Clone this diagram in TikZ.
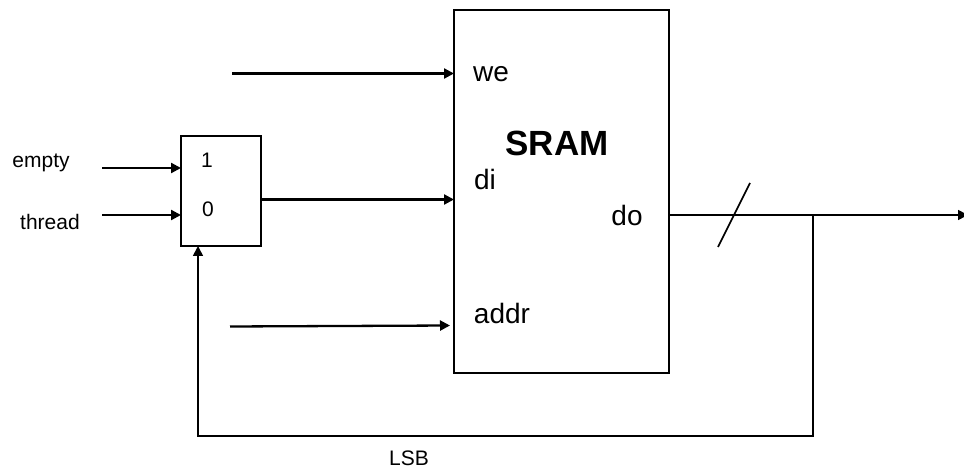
\documentclass[tikz,border=0pt]{standalone}
\usepackage{fontspec}
\setmainfont{Liberation Sans}
\usetikzlibrary{positioning, calc, arrows.meta}
\tikzset{
    wire/.style={line width=2.3pt, -{Triangle[length=10pt,width=10pt]}},
    thinwire/.style={line width=1.7pt, -{Triangle[length=10pt,width=10pt]}},
    plainwire/.style={line width=1.7pt},
    block/.style={draw, line width=2pt, outer sep=0pt, inner sep=0pt, anchor=north west},
    smalllabel/.style={font=\fontsize{21}{24}\selectfont, inner sep=0pt},
    biglabel/.style={font=\fontsize{28}{32}\selectfont, inner sep=0pt}
}
\begin{document}
\begin{tikzpicture}[x=1pt, y=-1pt]
        \useasboundingbox (0, 0) rectangle (964, 470);

        % Mux and memory blocks
        \node[block, minimum width=80pt, minimum height=110pt] (mux) at (181, 136) {};
        \node[block, minimum width=215pt, minimum height=363pt] (sram) at (454, 10) {};

        % Labels
        \node[smalllabel] (empty) at (41, 162.5) {empty};
        \node[smalllabel] (thread) at (50, 222) {thread};
        \node[smalllabel] (one) at (207, 160) {1};
        \node[smalllabel] (zero) at (208, 209) {0};
        \node[smalllabel] (lsb) at (409, 458) {LSB};
        \node[biglabel] (we) at (491, 74) {we};
        \node[biglabel] (di) at (485, 179) {di};
        \node[biglabel] (do) at (627, 215) {do};
        \node[biglabel] (addr) at (502, 313) {addr};
        \node[font=\bfseries\fontsize{35}{40}\selectfont, inner sep=0pt] (title) at (557, 143) {SRAM};

        % Free wire ends
        \coordinate (emptyin) at (102, 168);
        \coordinate (threadin) at (102, 215);
        \coordinate (wein) at (232, 73.5);
        \coordinate (addrin) at (230, 326.5);
        \coordinate (addrend) at (450, 325.5);
        \coordinate (out) at (968, 215);
        \coordinate (branch) at (813, 215);
        \coordinate (corner) at (813, 436);
        \coordinate (selcorner) at (198, 436);
        \coordinate (slashtop) at (750, 183);
        \coordinate (slashbot) at (718, 247);

        % Inputs
        \draw[wire] (emptyin) -- (emptyin -| mux.west);
        \draw[wire] (threadin) -- (threadin -| mux.west);
        \draw[wire] (mux.east |- 0, 199.5) -- (sram.west |- 0, 199.5);
        \draw[wire] (wein) -- (wein -| sram.west);
        \draw[wire] (addrin) -- (addrend);

        % Output and feedback
        \draw[thinwire] (sram.east |- out) -- (out);
        \draw[plainwire] (slashtop) -- (slashbot);
        \draw[thinwire] (branch) -- (corner) -- (selcorner) -- (selcorner |- mux.south);

\end{tikzpicture}
\end{document}
